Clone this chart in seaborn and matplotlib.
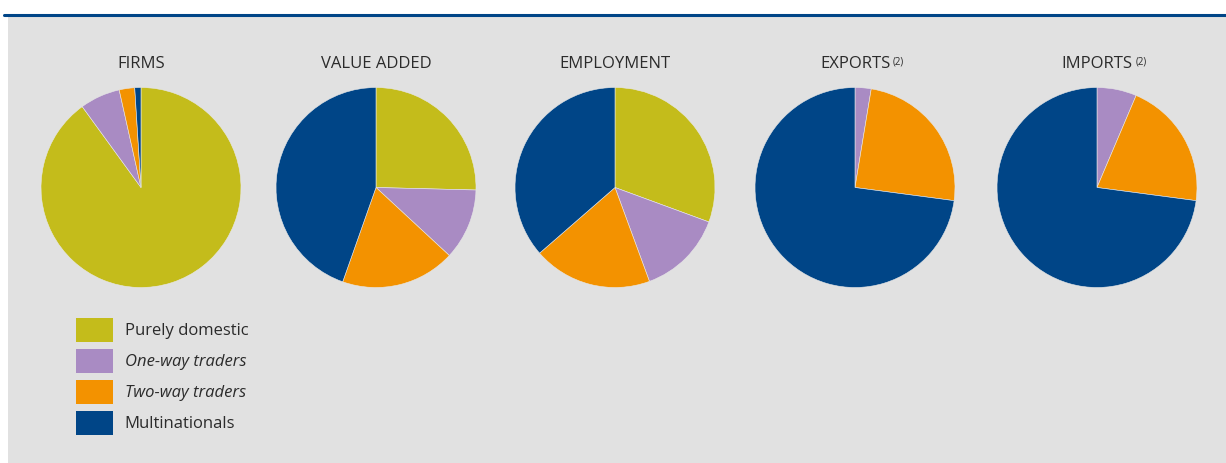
import matplotlib
matplotlib.use("Agg")
import matplotlib.pyplot as plt
from matplotlib.patches import Patch, Rectangle
from matplotlib.lines import Line2D
import seaborn as sns

# Shares (%) of each firm type, per indicator
categories = ["Purely domestic", "One-way traders", "Two-way traders", "Multinationals"]
titles = ["FIRMS", "VALUE ADDED", "EMPLOYMENT", "EXPORTS", "IMPORTS"]
title_notes = ["", "", "", "(2)", "(2)"]
firms = [90.0, 6.5, 2.5, 1.0]
value_added = [25.4, 11.5, 18.5, 44.6]
employment = [30.6, 13.8, 19.2, 36.4]
exports = [0.0, 2.6, 24.5, 72.9]
imports = [0.0, 6.4, 20.7, 72.9]
series = [firms, value_added, employment, exports, imports]

palette = ["#C4BC1B", "#A98BC3", "#F39200", "#004587"]
panel_bg = "#E1E1E1"
text_col = "#2B2B2B"

sns.set_theme(style="white")
sns.set_palette(palette)
plt.rcParams["font.family"] = ["Open Sans", "DejaVu Sans"]

W, H = 1226, 463
fig = plt.figure(figsize=(W / 100, H / 100), dpi=100)
fig.patch.set_facecolor("white")

# grey panel and top rule
fig.add_artist(Rectangle((8 / W, 0), 1 - 8 / W, 1 - 16 / H, transform=fig.transFigure,
                         facecolor=panel_bg, edgecolor="none", zorder=0))
fig.add_artist(Line2D([4 / W, 1], [1 - 15 / H, 1 - 15 / H], transform=fig.transFigure,
                      color="#004587", lw=2.2, zorder=1))

centers_x = [141, 376, 615, 855, 1097]
cy, r = 187.5, 100

title_objs = []
for cx, vals, title in zip(centers_x, series, titles):
    ax = fig.add_axes([(cx - r) / W, 1 - (cy + r) / H, 2 * r / W, 2 * r / H])
    ax.pie(vals, colors=palette, startangle=90, counterclock=False, radius=1,
           wedgeprops=dict(edgecolor="#E8E8E8", linewidth=0.4))
    ax.set_xlim(-1.0, 1.0)
    ax.set_ylim(-1.0, 1.0)
    ax.set_aspect("equal")
    ax.axis("off")
    t = fig.text(cx / W, 1 - 64 / H, title, ha="center", va="center",
                 fontsize=12, color=text_col)
    title_objs.append(t)

# superscript notes after titles
fig.canvas.draw()
renderer = fig.canvas.get_renderer()
for t, note in zip(title_objs, title_notes):
    if note:
        bb = t.get_window_extent(renderer)
        fig.text((bb.x1 + 3) / W, (bb.y1 - 1) / H, note, ha="left", va="top",
                 fontsize=7, color=text_col)

handles = [Patch(facecolor=c, edgecolor="none") for c in palette]
leg = fig.legend(handles, categories, loc="upper left",
                 bbox_to_anchor=(61 / W, 1 - 303 / H), frameon=False,
                 fontsize=12, handlelength=2.2, handleheight=1.8,
                 handletextpad=0.72, labelspacing=0.45, labelcolor=text_col)
for i, txt in enumerate(leg.get_texts()):
    if i in (1, 2):
        txt.set_fontstyle("italic")

fig.savefig("out.png", dpi=100, facecolor=fig.get_facecolor())
